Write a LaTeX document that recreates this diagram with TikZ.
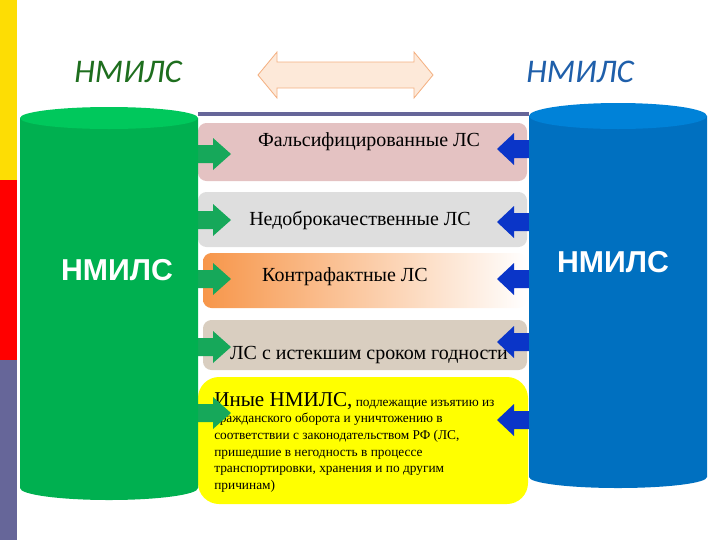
\documentclass[tikz,border=0pt]{standalone}
\usepackage{fontspec}
\setmainfont{Liberation Serif}
\newfontfamily\headfont{Liberation Sans}
\newfontfamily\titlefont{Carlito}
\usetikzlibrary{positioning}

\definecolor{cylgreen}{HTML}{00B050}
\definecolor{cylgreentop}{HTML}{00C85C}
\definecolor{cylblue}{HTML}{0070C0}
\definecolor{cylbluetop}{HTML}{0082D8}
\definecolor{ttlgreen}{HTML}{1E6E1E}
\definecolor{ttlblue}{HTML}{1F5FAA}
\definecolor{linepurple}{HTML}{666699}
\definecolor{bandpink}{HTML}{E4C2C2}
\definecolor{bandgrey}{HTML}{DEDEDE}
\definecolor{bandorange}{HTML}{F7964A}
\definecolor{bandlinen}{HTML}{D9CEC0}
\definecolor{bandyellow}{HTML}{FFFF00}
\definecolor{arrgreen}{HTML}{16A85A}
\definecolor{arrblue}{HTML}{0A35C8}
\definecolor{peach}{HTML}{FDE9D9}
\definecolor{peachline}{HTML}{F4B183}

\tikzset{
  band/.style={rounded corners=6},
  bandtext/.style={font=\fontsize{14.2}{16}\selectfont},
  cyltext/.style={font=\headfont\bfseries\fontsize{21.5}{25}\selectfont, text=white},
  title/.style={font=\titlefont\itshape\fontsize{23.5}{28}\selectfont}
}

\begin{document}
\begin{tikzpicture}[x=0.025cm, y=-0.025cm]
  \useasboundingbox (0,0) rectangle (720,540);

  % side bars
  \fill[yellow!80!orange] (0,0) rectangle (17,180);
  \fill[red] (0,180) rectangle (17,360);
  \fill[linepurple] (0,360) rectangle (17,540);

  % titles and double arrow
  \node[title, text=ttlgreen] (tleft) at (128,72) {НМИЛС};
  \node[title, text=ttlblue] (tright) at (580,72) {НМИЛС};
  \filldraw[fill=peach, draw=peachline, line width=0.6pt]
    (258,75) -- (277,52) -- (277,62) -- (414,62) -- (414,52) -- (433,75)
    -- (414,98) -- (414,88) -- (277,88) -- (277,98) -- cycle;

  \draw[linepurple, line width=2.2pt] (198,114) -- (529,114);

  % bands
  \fill[band, bandpink] (198,123) rectangle (527,181);
  \node[bandtext] (falsif) at (369,142) {Фальсифицированные ЛС};

  \fill[band, bandgrey] (198,192) rectangle (527,247);
  \node[bandtext] (nedobr) at (360,220) {Недоброкачественные ЛС};

  \shade[band, left color=bandorange, right color=white] (203,253) rectangle (527,308);
  \node[bandtext] (kontra) at (345,277) {Контрафактные ЛС};

  \fill[band, bandlinen] (203,320) rectangle (527,370);
  \node[bandtext] (istek) at (369,355) {ЛС с истекшим сроком годности};

  \fill[rounded corners=15, bandyellow] (198,377) rectangle (528,504);
  \node[anchor=north west, align=left, inner sep=0pt,
        font=\fontsize{9.5}{11.8}\selectfont] (inye) at (214,392)
    {{\fontsize{15}{15}\selectfont Иные НМИЛС,} подлежащие изъятию из\\
     гражданского оборота и уничтожению в\\
     соответствии с законодательством РФ (ЛС,\\
     пришедшие в негодность в процессе\\
     транспортировки, хранения и по другим\\
     причинам)};

  % arrows
  \foreach \y in {154,220,279,347,413}
    \fill[arrgreen] (198,\y-9) -- (213,\y-9) -- (213,\y-16) -- (231,\y)
      -- (213,\y+16) -- (213,\y+9) -- (198,\y+9) -- cycle;
  \foreach \y in {149,222,279,342,420}
    \fill[arrblue] (533,\y-9) -- (514,\y-9) -- (514,\y-16) -- (497,\y)
      -- (514,\y+16) -- (514,\y+9) -- (533,\y+9) -- cycle;

  % cylinders
  \fill[cylgreen] (20,118) -- (20,488) arc[start angle=180, end angle=360, x radius=89, y radius=-12]
    -- (198,118) -- cycle;
  \fill[cylgreentop] (109,118) ellipse[x radius=89, y radius=11];
  \node[cyltext] (nleft) at (117,270) {НМИЛС};

  \fill[cylblue] (529,116) -- (529,477) arc[start angle=180, end angle=360, x radius=89, y radius=-11]
    -- (707,116) -- cycle;
  \fill[cylbluetop] (618,116) ellipse[x radius=89, y radius=13];
  \node[cyltext] (nright) at (613,262) {НМИЛС};
\end{tikzpicture}
\end{document}
